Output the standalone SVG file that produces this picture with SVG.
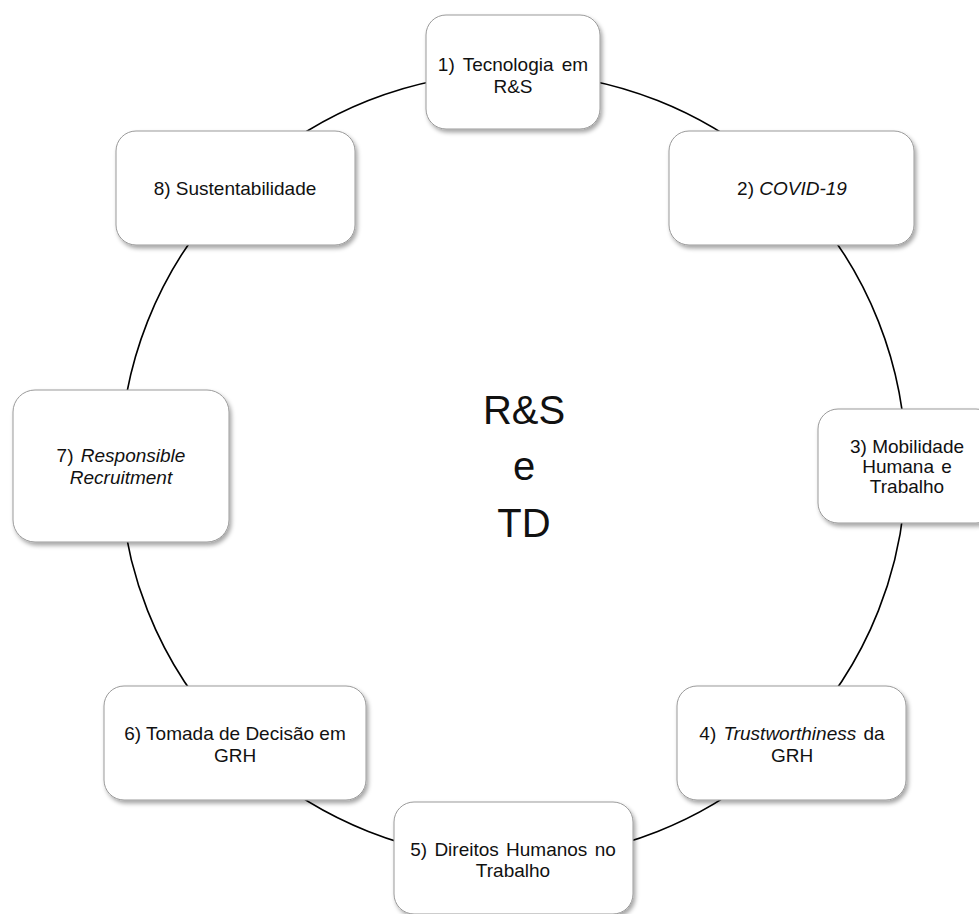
<svg xmlns="http://www.w3.org/2000/svg" width="979" height="914" viewBox="0 0 979 914">
<defs>
<filter id="sh" x="-10%" y="-10%" width="125%" height="135%">
<feDropShadow dx="2" dy="3" stdDeviation="2" flood-color="#000" flood-opacity="0.35"/>
</filter>
<style>
.box{fill:#fff;stroke:#9a9a9a;stroke-width:1;filter:url(#sh)}
.t{font-family:"Liberation Sans",Arial,sans-serif;font-size:19px;fill:#111;text-anchor:middle}
.c{font-family:"Liberation Sans",Arial,sans-serif;font-size:40px;fill:#111;text-anchor:middle}
.i{font-style:italic}
.link{fill:none;stroke:#000;stroke-width:1.6}
</style>
</defs>
<rect width="979" height="914" fill="#fff"/>
<g id="connectors">
<circle class="link" cx="513" cy="466" r="393"/>
</g>
<g id="center">
<text class="c" x="524" y="424">R&amp;S</text>
<text class="c" x="524" y="480">e</text>
<text class="c" x="524" y="537">TD</text>
</g>
<g id="n1">
<rect class="box" x="426" y="15" width="174" height="114" rx="20"/>
<text class="t" x="513" y="71" word-spacing="3">1) Tecnologia em</text>
<text class="t" x="513" y="93">R&amp;S</text>
</g>
<g id="n2">
<rect class="box" x="669" y="131" width="245" height="114" rx="20"/>
<text class="t" x="792" y="195">2) <tspan class="i">COVID-19</tspan></text>
</g>
<g id="n3">
<rect class="box" x="818" y="409" width="178" height="114" rx="20"/>
<text class="t" x="907" y="453">3) Mobilidade</text>
<text class="t" x="907" y="473" word-spacing="2">Humana e</text>
<text class="t" x="907" y="493">Trabalho</text>
</g>
<g id="n4">
<rect class="box" x="677" y="686" width="229" height="114" rx="20"/>
<text class="t" x="792" y="740" word-spacing="2">4) <tspan class="i">Trustworthiness</tspan> da</text>
<text class="t" x="792" y="762">GRH</text>
</g>
<g id="n5">
<rect class="box" x="394" y="802" width="239" height="112" rx="20"/>
<text class="t" x="513" y="856" word-spacing="2">5) Direitos Humanos no</text>
<text class="t" x="513" y="877">Trabalho</text>
</g>
<g id="n6">
<rect class="box" x="104" y="686" width="262" height="114" rx="20"/>
<text class="t" x="235" y="740">6) Tomada de Decisão em</text>
<text class="t" x="235" y="762">GRH</text>
</g>
<g id="n7">
<rect class="box" x="13" y="390" width="216" height="152" rx="22"/>
<text class="t" x="121" y="462" word-spacing="2">7) <tspan class="i">Responsible</tspan></text>
<text class="t i" x="121" y="484">Recruitment</text>
</g>
<g id="n8">
<rect class="box" x="116" y="131" width="239" height="114" rx="20"/>
<text class="t" x="235" y="195">8) Sustentabilidade</text>
</g>
</svg>
